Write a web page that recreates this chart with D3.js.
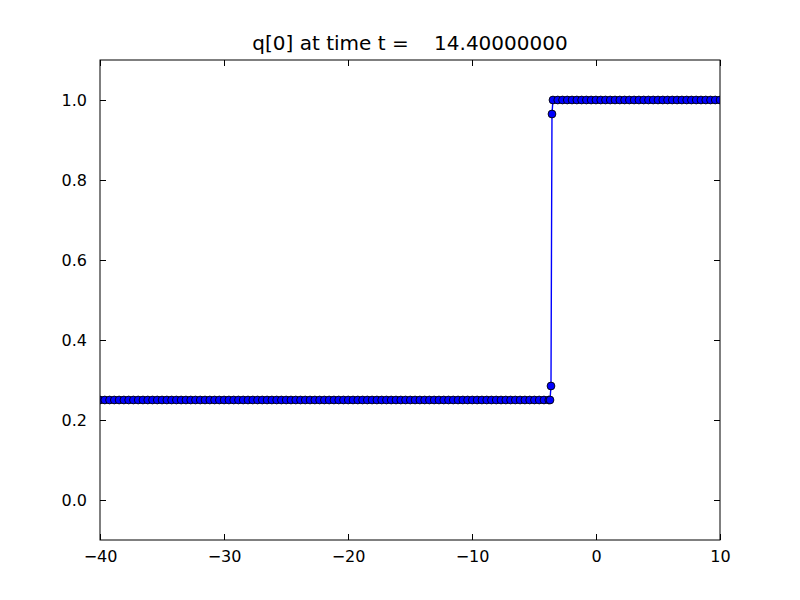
<!DOCTYPE html>
<html>
<head>
<meta charset="utf-8">
<script src="https://cdn.jsdelivr.net/npm/d3@7"></script>
<style>
  body { margin: 0; background: #fff; }
  text { font-family: "DejaVu Sans", sans-serif; }
</style>
</head>
<body>
<div id="chart"></div>
<script>
// Data
const titleText = "q[0] at time t =    14.40000000";
// left state: grid points every ~0.385 up to the shock
const xLeft = d3.range(0, 95).map(i => -40 + i * 0.385);
const yLeftValue = 0.25;
// points inside the jump
const xJump = [-3.71, -3.63, -3.55];
const yJump = [0.25, 0.285, 0.965];
// right state
const xRight = d3.range(0, 37).map(i => -3.47 + i * 0.385);
const yRightValue = 1.0;
const xTicks = [-40, -30, -20, -10, 0, 10];
const yTicks = [0.0, 0.2, 0.4, 0.6, 0.8, 1.0];

const data = []
  .concat(xLeft.map(x => ({x: x, y: yLeftValue})))
  .concat(xJump.map((x, i) => ({x: x, y: yJump[i]})))
  .concat(xRight.map(x => ({x: x, y: yRightValue})));

const W = 800, H = 600;
const margin = {top: 60, right: 80, bottom: 60, left: 100};
const width = W - margin.left - margin.right;
const height = H - margin.top - margin.bottom;

const svg = d3.select("#chart").append("svg")
    .attr("width", W)
    .attr("height", H);

const g = svg.append("g")
    .attr("transform", `translate(${margin.left},${margin.top})`);

const x = d3.scaleLinear().domain([-40, 10]).range([0, width]);
const y = d3.scaleLinear().domain([-0.1, 1.1]).range([height, 0]);

g.append("clipPath").attr("id", "clip")
  .append("rect").attr("width", width).attr("height", height);

const fmtX = d => (d < 0 ? "\u2212" + Math.abs(d) : String(d));
const fmtY = d => d3.format(".1f")(d);

// ticks pointing inward, on all four sides
const tickLen = 6;
g.append("g")
    .attr("transform", `translate(0,${height})`)
    .call(d3.axisBottom(x).tickValues(xTicks).tickSize(-tickLen).tickPadding(tickLen + 5).tickFormat(fmtX));
g.append("g")
    .call(d3.axisTop(x).tickValues(xTicks).tickSize(-tickLen).tickFormat(""));
g.append("g")
    .call(d3.axisLeft(y).tickValues(yTicks).tickSize(-tickLen).tickPadding(tickLen + 7).tickFormat(fmtY));
g.append("g")
    .attr("transform", `translate(${width},0)`)
    .call(d3.axisRight(y).tickValues(yTicks).tickSize(-tickLen).tickFormat(""));

g.selectAll(".domain").remove();
g.selectAll(".tick line").attr("stroke", "#000").attr("stroke-width", 1);
g.selectAll(".tick text")
    .attr("fill", "#000")
    .style("font-size", "16px")
    .style("font-family", "DejaVu Sans");

const plot = g.append("g").attr("clip-path", "url(#clip)");

plot.append("path")
    .datum(data)
    .attr("fill", "none")
    .attr("stroke", "#0000ff")
    .attr("stroke-width", 1.4)
    .attr("d", d3.line().x(d => x(d.x)).y(d => y(d.y)));

plot.selectAll("circle")
  .data(data)
  .join("circle")
    .attr("cx", d => x(d.x))
    .attr("cy", d => y(d.y))
    .attr("r", 3.9)
    .attr("fill", "#0000ff")
    .attr("stroke", "#000")
    .attr("stroke-width", 0.9);

// frame
g.append("rect")
    .attr("width", width)
    .attr("height", height)
    .attr("fill", "none")
    .attr("stroke", "#000")
    .attr("stroke-width", 1);

svg.append("text")
    .attr("x", margin.left + width / 2)
    .attr("y", 50)
    .attr("text-anchor", "middle")
    .attr("xml:space", "preserve")
    .style("white-space", "pre")
    .style("font-size", "20px")
    .text(titleText);
</script>
</body>
</html>
